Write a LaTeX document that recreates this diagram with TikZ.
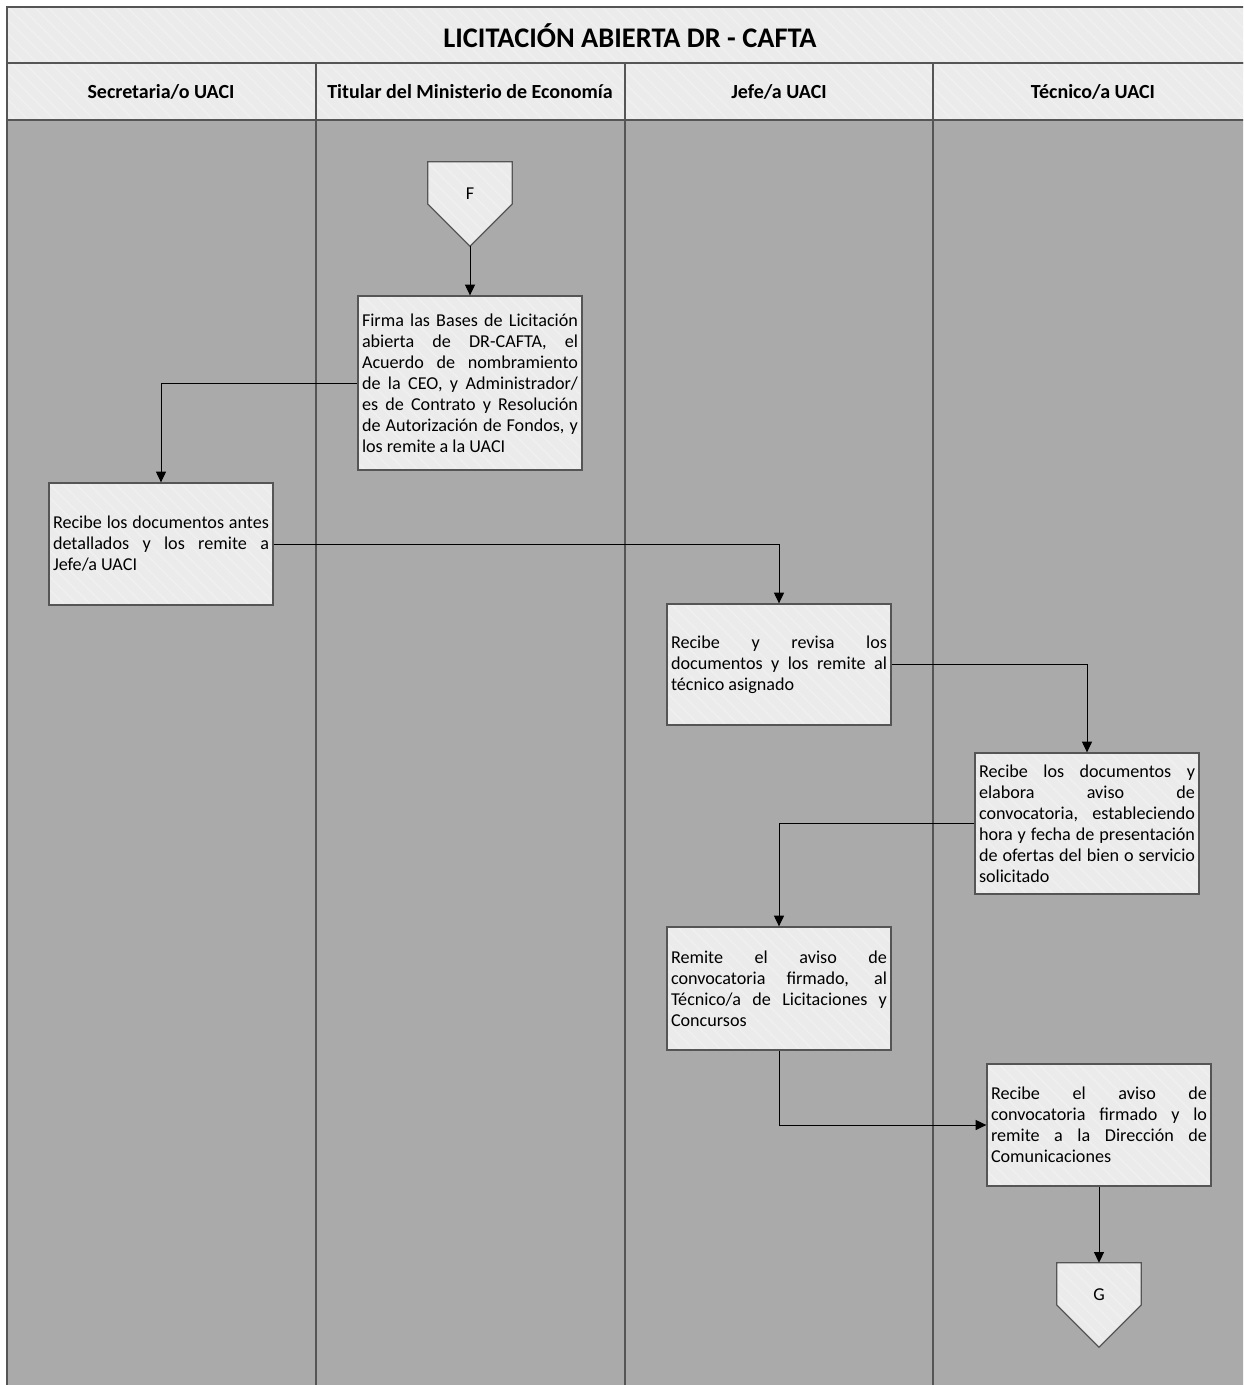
\documentclass[tikz,border=0pt]{standalone}
\usepackage{fontspec}
\setmainfont{Carlito}
\usetikzlibrary{arrows.meta, positioning, calc, patterns.meta}

\definecolor{lanegray}{HTML}{AAAAAA}
\definecolor{boxgray}{HTML}{EBEBEB}
\definecolor{hatchgray}{HTML}{F0F0F0}
\definecolor{edgegray}{HTML}{555555}

\tolerance=10000
\hbadness=10000

\begin{document}
\begin{tikzpicture}[
        x=0.75pt, y=-0.75pt,
        hatch/.style={preaction={fill=boxgray}, pattern={Lines[angle=-45, distance=7pt, line width=1pt]}, pattern color=hatchgray},
        box/.style={rectangle, draw=edgegray, line width=1pt, hatch, text width=162pt, inner xsep=3pt, inner ysep=0pt, minimum width=168pt, align=justify, font=\fontsize{13.6pt}{15.75pt}\selectfont},
        offpage/.style={rectangle, minimum width=63pt, minimum height=63pt, inner sep=0pt},
        lanehead/.style={font=\fontsize{15pt}{17pt}\selectfont\bfseries},
        laneline/.style={draw=edgegray, line width=1pt},
        flow/.style={-{Triangle[length=8pt, width=7.5pt]}, line width=0.75pt}
    ]

    \useasboundingbox (0,0) rectangle (1243,1385);
    \clip (0,0) rectangle (1243,1385);

    % lanes and header
    \fill[white] (0,0) rectangle (1243,1385);
    \fill[lanegray] (7,120) rectangle (1270,1400);
    \draw[hatch, draw=edgegray, line width=1.5pt] (7,7) rectangle (1270,63);
    \draw[hatch, draw=edgegray, line width=1.5pt] (7,63) rectangle (1270,120);
    \draw[laneline, line width=1.5pt] (7,7) -- (7,1400);
    \foreach \x in {316, 625, 933}
        \draw[laneline] (\x,63) -- (\x,1400);

    \node (title) [font=\fontsize{21.3pt}{24pt}\selectfont\bfseries] at (630,36) {LICITACIÓN ABIERTA DR - CAFTA};
    \foreach \x/\name/\txt in {161/secretaria/{Secretaria/o UACI}, 470/titular/{Titular del Ministerio de Economía}, 779/jefe/{Jefe/a UACI}, 1093/tecnico/{Técnico/a UACI}}
        \node (\name) [lanehead] at (\x,92) {\txt};

    % nodes
    \node (F) [offpage] at (470,204) {};
    \draw[hatch, draw=edgegray, line width=1pt] (F.north west) -- (F.north east) -- (F.east) -- (F.south) -- (F.west) -- cycle;
    \node (Flabel) [font=\fontsize{13.6pt}{15pt}\selectfont] at ([yshift=8pt]F.center) {F};

    \node (firma) [box, minimum height=130.5pt] at (470,383) {Firma las Bases de Licitación\linebreak abierta de DR-CAFTA, el\linebreak Acuerdo de nombramiento\linebreak de la CEO, y Administrador/\linebreak es de Contrato y Resolución\linebreak de Autorización de Fondos, y\linebreak los remite a la UACI};
    \node (recibesec) [box, minimum height=91.5pt] at (161,544) {Recibe los documentos antes\linebreak detallados y los remite a\linebreak Jefe/a UACI};
    \node (revisa) [box, minimum height=90.75pt] at (779,664.5) {Recibe y revisa los\linebreak documentos y los remite al\linebreak técnico asignado};
    \node (elabora) [box, minimum height=105.75pt] at (1087,823.5) {Recibe los documentos y\linebreak elabora aviso de\linebreak convocatoria, estableciendo\linebreak hora y fecha de presentación\linebreak de ofertas del bien o servicio\linebreak solicitado};
    \node (remite) [box, minimum height=92.25pt] at (779,988.5) {Remite el aviso de\linebreak convocatoria firmado, al\linebreak Técnico/a de Licitaciones y\linebreak Concursos};
    \node (recibeaviso) [box, minimum height=91.5pt] at (1099,1125) {Recibe el aviso de\linebreak convocatoria firmado y lo\linebreak remite a la Dirección de\linebreak Comunicaciones};

    \node (G) [offpage] at (1099,1305) {};
    \draw[hatch, draw=edgegray, line width=1pt] (G.north west) -- (G.north east) -- (G.east) -- (G.south) -- (G.west) -- cycle;
    \node (Glabel) [font=\fontsize{13.6pt}{15pt}\selectfont] at ([yshift=8pt]G.center) {G};

    % connectors
    \draw[flow] (F.south) -- (firma.north);
    \draw[flow] (firma.west) -| (recibesec.north);
    \draw[flow] (recibesec.east) -| (revisa.north);
    \draw[flow] (revisa.east) -| (elabora.north);
    \draw[flow] (elabora.west) -| (remite.north);
    \draw[flow] (remite.south) |- (recibeaviso.west);
    \draw[flow] (recibeaviso.south) -- (G.north);

\end{tikzpicture}
\end{document}
